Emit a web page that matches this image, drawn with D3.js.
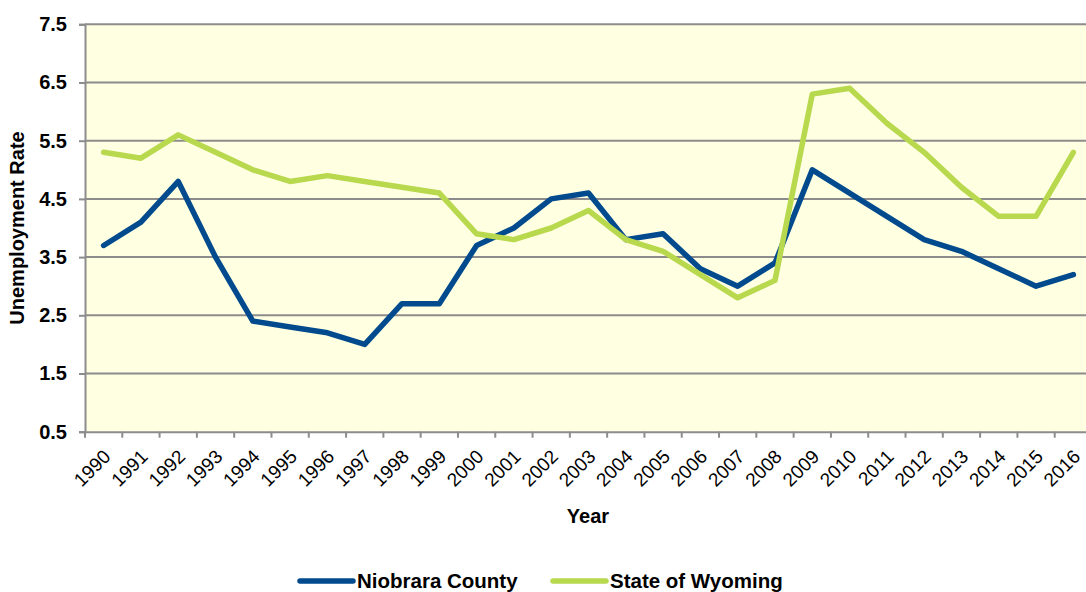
<!DOCTYPE html>
<html>
<head>
<meta charset="utf-8">
<script src="https://cdn.jsdelivr.net/npm/d3@7"></script>
<style>
html,body{margin:0;padding:0;background:#fff;}
svg{display:block;font-family:"Liberation Sans",Arial,sans-serif;}
</style>
</head>
<body>
<svg id="chart" width="1086" height="592"></svg>
<script>
const years = ["1990","1991","1992","1993","1994","1995","1996","1997","1998","1999","2000","2001","2002","2003","2004","2005","2006","2007","2008","2009","2010","2011","2012","2013","2014","2015","2016"];
const niobrara = [3.7,4.1,4.8,3.5,2.4,2.3,2.2,2.0,2.7,2.7,3.7,4.0,4.5,4.6,3.8,3.9,3.3,3.0,3.4,5.0,4.6,4.2,3.8,3.6,3.3,3.0,3.2];
const wyoming = [5.3,5.2,5.6,5.3,5.0,4.8,4.9,4.8,4.7,4.6,3.9,3.8,4.0,4.3,3.8,3.6,3.2,2.8,3.1,6.3,6.4,5.8,5.3,4.7,4.2,4.2,5.3];
const yTicks = [0.5,1.5,2.5,3.5,4.5,5.5,6.5,7.5];
const seriesNames = ["Niobrara County","State of Wyoming"];

const svg = d3.select("#chart");
const pL = 85, pR = 1092, pT = 24.3, pB = 431.7;
const x = d3.scaleBand().domain(years).range([pL, pR]);
const y = d3.scaleLinear().domain([0.5, 7.5]).range([pB, pT]);
const colors = ["#004a8d", "#b8d84d"];
const grid = "#8c8c8c";

svg.append("rect").attr("x", pL).attr("y", pT).attr("width", pR - pL).attr("height", pB - pT).attr("fill", "#ffffe2");

// gridlines
svg.append("g").selectAll("line").data(yTicks.slice(1)).join("line")
  .attr("x1", pL).attr("x2", pR).attr("y1", d => y(d)).attr("y2", d => y(d))
  .attr("stroke", grid).attr("stroke-width", 2);

// y axis
const yAxis = svg.append("g").attr("transform", `translate(${pL},0)`)
  .call(d3.axisLeft(y).tickValues(yTicks).tickFormat(d3.format(".1f")).tickSize(6).tickPadding(12));
yAxis.select(".domain").attr("stroke", grid).attr("stroke-width", 2);
yAxis.selectAll(".tick line").attr("stroke", grid).attr("stroke-width", 2);
yAxis.selectAll(".tick text").attr("font-size", 20).attr("font-weight", "bold").attr("fill", "#000").attr("font-family", "Liberation Sans, Arial, sans-serif");

// x axis
const xAxis = svg.append("g").attr("transform", `translate(0,${pB})`)
  .call(d3.axisBottom(x).tickSize(0).tickFormat(d => d));
xAxis.select(".domain").attr("stroke", grid).attr("stroke-width", 2);
xAxis.selectAll(".tick text")
  .attr("font-size", 19).attr("fill", "#000").attr("font-family", "Liberation Sans, Arial, sans-serif")
  .attr("text-anchor", "end").attr("dy", null)
  .attr("transform", "translate(6,24) rotate(-45)");
// boundary ticks
svg.append("g").selectAll("line").data(years).join("line")
  .attr("x1", d => x(d)).attr("x2", d => x(d)).attr("y1", pB).attr("y2", pB + 6)
  .attr("stroke", grid).attr("stroke-width", 2);

// lines
const line = d3.line().x((d, i) => x(years[i]) + x.bandwidth() / 2).y(d => y(d));
[niobrara, wyoming].forEach((s, k) => {
  svg.append("path").datum(s).attr("d", line).attr("fill", "none")
    .attr("stroke", colors[k]).attr("stroke-width", 5.5).attr("stroke-linejoin", "round").attr("stroke-linecap", "round");
});

// titles
svg.append("text").attr("x", 588).attr("y", 523).attr("text-anchor", "middle")
  .attr("font-size", 20).attr("font-weight", "bold").text("Year");
svg.append("text").attr("transform", `translate(24,${(pT + pB) / 2}) rotate(-90)`).attr("text-anchor", "middle")
  .attr("font-size", 20).attr("font-weight", "bold").text("Unemployment Rate");

// legend
const legX = [300, 553];
seriesNames.forEach((n, k) => {
  const g = svg.append("g").attr("transform", `translate(${legX[k]},581)`);
  g.append("line").attr("x1", 0).attr("x2", 53).attr("y1", 0).attr("y2", 0)
    .attr("stroke", colors[k]).attr("stroke-width", 5.5).attr("stroke-linecap", "round");
  g.append("text").attr("x", 57).attr("y", 7).attr("font-size", 20.5).attr("font-weight", "bold").text(n);
});
</script>
</body>
</html>
